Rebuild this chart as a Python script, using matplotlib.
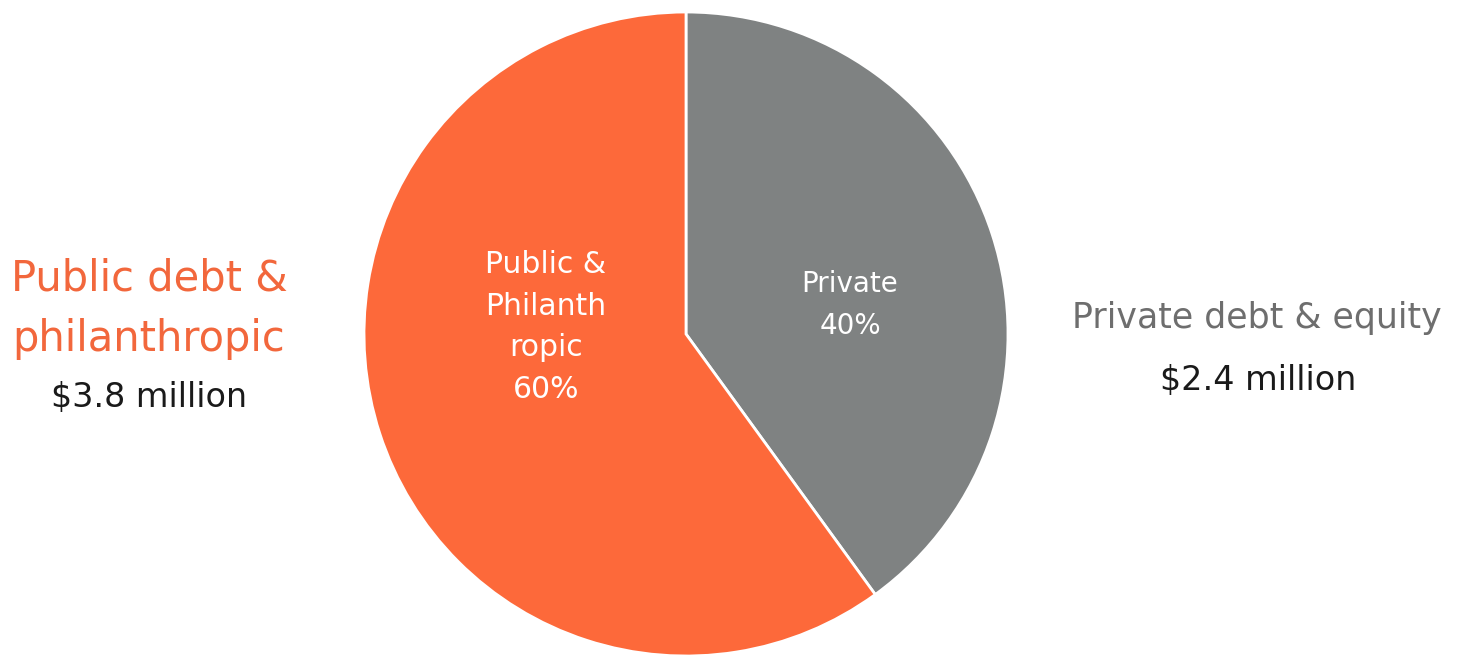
import matplotlib
matplotlib.use("Agg")
import matplotlib.pyplot as plt

categories = ["Private", "Public & Philanthropic"]
shares = [40, 60]
inner_labels = ["Private\n40%", "Public &\nPhilanth\nropic\n60%"]
colors = ["#7f8282", "#fd693a"]

side_titles = ["Private debt & equity", "Public debt &\nphilanthropic"]
side_amounts = ["$2.4 million", "$3.8 million"]

plt.rcParams['font.family'] = ['DejaVu Sans']

fig = plt.figure(figsize=(14.63, 6.58), dpi=100)
fig.patch.set_facecolor("white")
ax = fig.add_axes([0.2488, 0.00304, 0.4402, 0.9787])
wedges, _ = ax.pie(shares, colors=colors, startangle=90, counterclock=False,
                   radius=1.0, wedgeprops=dict(edgecolor="white", linewidth=2))
ax.set_xlim(-1, 1)
ax.set_ylim(-1, 1)
ax.set_aspect("equal")
ax.axis("off")

def fxy(px, py):
    return px / 1463, 1 - py / 658

x, y = fxy(850, 305)
fig.text(x, y, inner_labels[0], ha="center", va="center", color="white",
         fontsize=20, linespacing=1.6)
x, y = fxy(546, 327)
fig.text(x, y, inner_labels[1], ha="center", va="center", color="white",
         fontsize=21.5, linespacing=1.55)

x, y = fxy(149, 309)
fig.text(x, y, side_titles[1], ha="center", va="center", color="#f2673c",
         fontsize=30, linespacing=1.55)
x, y = fxy(149, 398)
fig.text(x, y, side_amounts[1], ha="center", va="center", color="#1a1a1a",
         fontsize=24)
x, y = fxy(1257, 318)
fig.text(x, y, side_titles[0], ha="center", va="center", color="#6e6e6e",
         fontsize=25)
x, y = fxy(1258, 381)
fig.text(x, y, side_amounts[0], ha="center", va="center", color="#1a1a1a",
         fontsize=24)

fig.savefig("out.png", dpi=100, facecolor="white")
